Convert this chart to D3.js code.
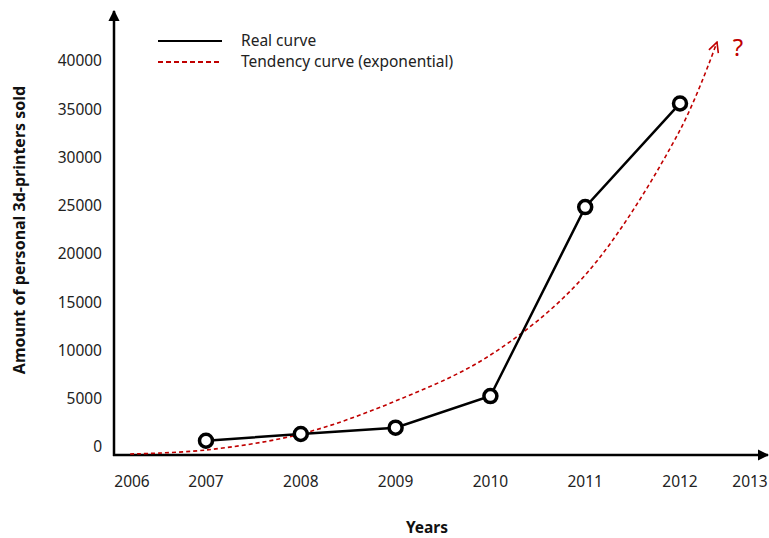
<!DOCTYPE html>
<html><head><meta charset="utf-8">
<script src="https://cdn.jsdelivr.net/npm/d3@7"></script>
<style>
html,body{margin:0;padding:0;background:#fff;}
svg{display:block;font-family:"Noto Sans","Open Sans",sans-serif;}
</style></head>
<body>
<svg id="chart" width="769" height="538"></svg>
<script>
// ---- data ----
const years = [2007, 2008, 2009, 2010, 2011, 2012];
const sold = [650, 1350, 2000, 5280, 24860, 35600];
const trendYears = [2006.2, 2007, 2008, 2009, 2010, 2011, 2012, 2012.39];
const trendValues = [-725, -310, 1350, 4770, 9530, 17820, 32840, 41960];
const yTicks = [0, 5000, 10000, 15000, 20000, 25000, 30000, 35000, 40000];
const xTickLabels = [2006, 2007, 2008, 2009, 2010, 2011, 2012, 2013];
const legendLabels = ["Real curve", "Tendency curve (exponential)"];
const yTitle = "Amount of personal 3d-printers sold";
const xTitle = "Years";

const red = "#c00000";
const svg = d3.select("#chart");

const x = d3.scaleLinear().domain([2007, 2012]).range([206, 680]);
const y = d3.scaleLinear().domain([0, 40000]).range([447, 61]);
const axisX0 = 114, axisY0 = y(0) + 8;

const defs = svg.append("defs");
defs.append("marker").attr("id", "arrBlack").attr("viewBox", "0 0 10 10")
  .attr("refX", 9).attr("refY", 5).attr("markerWidth", 4.5).attr("markerHeight", 4.5)
  .attr("markerUnits", "strokeWidth").attr("orient", "auto")
  .append("path").attr("d", "M0,0 L10,5 L0,10 Z").attr("fill", "#000");
defs.append("marker").attr("id", "arrRed").attr("viewBox", "0 0 12 12")
  .attr("refX", 11).attr("refY", 6).attr("markerWidth", 12).attr("markerHeight", 12)
  .attr("markerUnits", "userSpaceOnUse").attr("orient", "auto")
  .append("path").attr("d", "M1,1 L11,6 L1,11").attr("fill", "none")
  .attr("stroke", red).attr("stroke-width", 1.6);

// y tick labels
const yAxis = d3.axisLeft(y).tickValues(yTicks).tickSize(0).tickPadding(0)
  .tickFormat(d3.format("d"));
const gy = svg.append("g").attr("transform", `translate(102,0)`).call(yAxis);
gy.select(".domain").remove();
gy.selectAll("text").attr("font-size", 15.5).attr("fill", "#222")
  .attr("font-family", "'Noto Sans','Open Sans',sans-serif");

// x tick labels
svg.append("g").selectAll("text").data(xTickLabels).join("text")
  .attr("x", d => Math.max(132, Math.min(750, x(d))))
  .attr("y", axisY0 + 32)
  .attr("text-anchor", "middle").attr("font-size", 15.5).attr("fill", "#222")
  .text(d => d);

// axes lines
svg.append("line").attr("x1", axisX0).attr("y1", axisY0 + 1)
  .attr("x2", axisX0).attr("y2", 11)
  .attr("stroke", "#000").attr("stroke-width", 2.5).attr("marker-end", "url(#arrBlack)");
svg.append("line").attr("x1", axisX0 - 1).attr("y1", axisY0)
  .attr("x2", 768).attr("y2", axisY0)
  .attr("stroke", "#000").attr("stroke-width", 2.5).attr("marker-end", "url(#arrBlack)");

// trend curve
const trend = trendYears.map((t, i) => [t, trendValues[i]]);
svg.append("path").datum(trend)
  .attr("d", d3.line().x(d => x(d[0])).y(d => y(d[1])).curve(d3.curveCatmullRom.alpha(0.5)))
  .attr("fill", "none").attr("stroke", red).attr("stroke-width", 1.6)
  .attr("stroke-dasharray", "4,3").attr("marker-end", "url(#arrRed)");

svg.append("text").attr("x", x(trendYears[trendYears.length - 1]) + 21).attr("y", 56)
  .attr("text-anchor", "middle").attr("fill", red).attr("font-size", 24).text("?");

// real curve
const real = years.map((t, i) => [t, sold[i]]);
svg.append("path").datum(real)
  .attr("d", d3.line().x(d => x(d[0])).y(d => y(d[1])))
  .attr("fill", "none").attr("stroke", "#000").attr("stroke-width", 2.5);
svg.append("g").selectAll("circle").data(real).join("circle")
  .attr("cx", d => x(d[0])).attr("cy", d => y(d[1])).attr("r", 6.5)
  .attr("fill", "#fff").attr("stroke", "#000").attr("stroke-width", 3.5);

// legend
const lg = svg.append("g");
lg.append("line").attr("x1", 158).attr("x2", 222).attr("y1", 41).attr("y2", 41)
  .attr("stroke", "#000").attr("stroke-width", 2);
lg.append("line").attr("x1", 158).attr("x2", 222).attr("y1", 62).attr("y2", 62)
  .attr("stroke", red).attr("stroke-width", 2).attr("stroke-dasharray", "5,3");
lg.selectAll("text").data(legendLabels).join("text")
  .attr("x", 241).attr("y", (d, i) => 46 + i * 21)
  .attr("font-size", 15.5).attr("fill", "#222").text(d => d);

// titles
svg.append("text").attr("transform", "translate(25,230) rotate(-90)")
  .attr("text-anchor", "middle").attr("font-weight", "bold").attr("font-size", 16)
  .attr("fill", "#111").text(yTitle);
svg.append("text").attr("x", 427).attr("y", 533)
  .attr("text-anchor", "middle").attr("font-weight", "bold").attr("font-size", 15.5)
  .attr("fill", "#111").text(xTitle);
</script>
</body></html>
